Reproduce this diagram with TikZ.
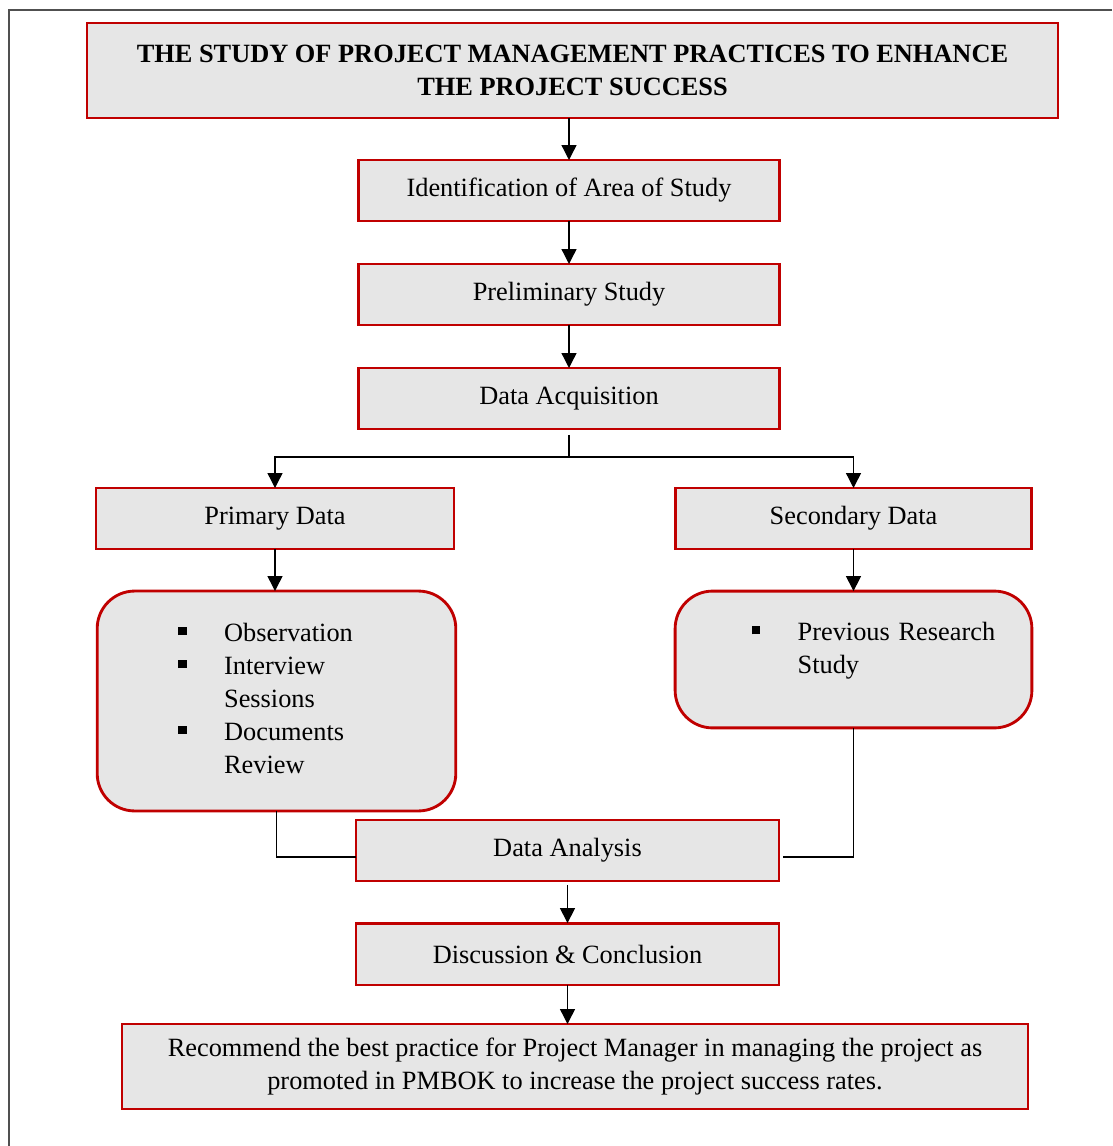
\documentclass[tikz,border=0pt]{standalone}
\usepackage{fontspec}
\setmainfont{Liberation Serif}
\usetikzlibrary{arrows.meta}
\definecolor{boxred}{RGB}{192,0,0}
\definecolor{boxfill}{RGB}{230,230,230}
\definecolor{framegray}{RGB}{80,80,80}
\newcommand{\sqbullet}{\raisebox{3pt}{\rule{3.8pt}{3.8pt}}}

\begin{document}
\begin{tikzpicture}[x=0.016cm, y=-0.016cm,
  >={Triangle[length=6.8pt,width=6.8pt]},
  every node/.style={font=\fontsize{12}{15}\selectfont, inner sep=0pt, outer sep=0pt},
  stagebox/.style={draw=boxred, line width=1.3pt, fill=boxfill, align=center, minimum height=0.976cm},
  listbox/.style={stagebox, rounded corners=0.6cm, align=left},
  link/.style={line width=0.6pt}]
\useasboundingbox (0,0) rectangle (1112,1146);

% Draw the page frame
\draw[framegray, line width=0.7pt] (1112,10) -- (9,10) -- (9,1146);

% Draw the boxes
\node[stagebox, minimum width=15.54cm, minimum height=1.52cm, font=\bfseries\fontsize{12}{15}\selectfont] (title) at (572.5,70.5) {THE STUDY OF PROJECT MANAGEMENT PRACTICES TO ENHANCE\\THE PROJECT SUCCESS};
\node[stagebox, minimum width=6.75cm] (ident) at (569,190.5) {Identification of Area of Study};
\node[stagebox, minimum width=6.75cm] (prelim) at (569,294.5) {Preliminary Study};
\node[stagebox, minimum width=6.75cm] (acq) at (569,398.5) {Data Acquisition};
\node[stagebox, minimum width=5.73cm] (primary) at (275,518.5) {Primary Data};
\node[stagebox, minimum width=5.71cm] (secondary) at (853.5,518.5) {Secondary Data};

% Draw the two lists
\node[listbox, text width=5.74cm, minimum height=3.52cm] (obs) at (276.5,701)
  {\hspace*{37pt}\begin{tabular}{@{}l@{\hspace{17pt}}l@{}}
   \sqbullet & Observation\\
   \sqbullet & Interview\\
             & Sessions\\
   \sqbullet & Documents\\
             & Review
   \end{tabular}};
\node[listbox, text width=5.71cm, minimum height=2.19cm] (prev) at (853.5,659.5)
  {\hspace*{35pt}\begin{tabular}{@{}l@{\hspace{17pt}}l@{}}
   \sqbullet & Previous Research\\
             & Study\\[8pt]
   \end{tabular}};

\node[stagebox, minimum width=6.77cm] (analysis) at (567.5,850.5) {Data Analysis};
\node[stagebox, minimum width=6.77cm, minimum height=0.99cm] (discuss) at (567.5,954) {Discussion \& Conclusion};
\node[stagebox, minimum width=14.5cm, minimum height=1.36cm] (recommend) at (575,1066.5) {Recommend the best practice for Project Manager in managing the project as\\promoted in PMBOK to increase the project success rates.};

% Draw the connectors
\draw[link,->] (ident.north |- title.south) -- (ident.north);
\draw[link,->] (ident.south) -- (prelim.north);
\draw[link,->] (prelim.south) -- (acq.north);
\coordinate (split) at (569,457);
\draw[link] ([yshift=-2.7pt]acq.south) -- (split);
\draw[link,->] (split) -| (primary.north);
\draw[link,->] (split) -| (secondary.north);
\draw[link,->] (primary.south) -- (primary.south |- obs.north);
\draw[link,->] (secondary.south) -- (secondary.south |- prev.north);
\draw[link] (obs.south) |- ([yshift=-3pt]analysis.west);
\draw[link] (prev.south) |- ([xshift=1.8pt,yshift=-3pt]analysis.east);
\draw[link,->] ([yshift=-1.8pt]analysis.south) -- (discuss.north);
\draw[link,->] (discuss.south) -- (discuss.south |- recommend.north);
\end{tikzpicture}
\end{document}
